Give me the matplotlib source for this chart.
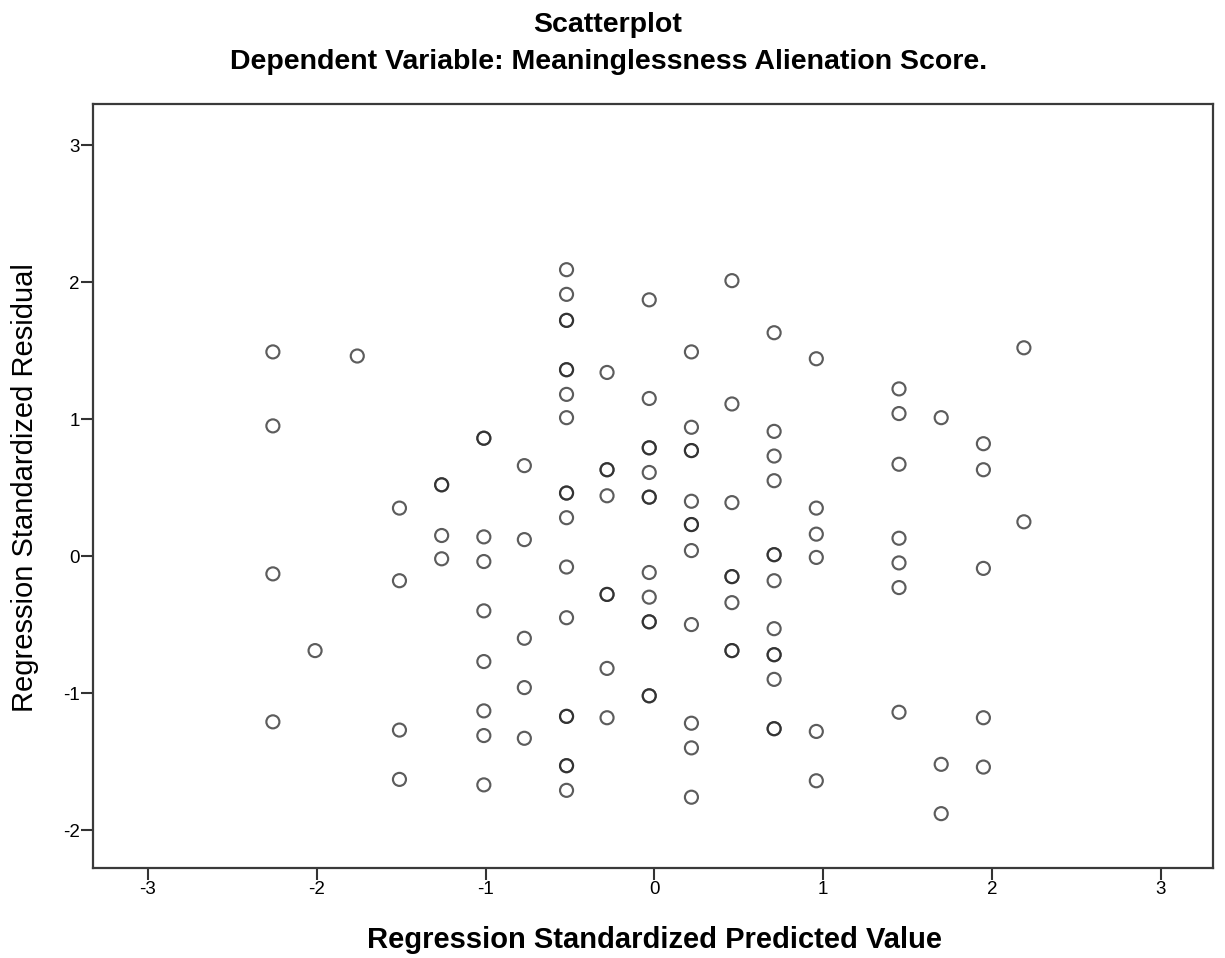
import matplotlib
matplotlib.use("Agg")
import matplotlib.pyplot as plt

plt.rcParams['font.family'] = ['Liberation Sans', 'DejaVu Sans']

# Standardized predicted values (x) and standardized residuals (y), per case
predicted = (
    [-2.26] * 4
    + [-2.01]
    + [-1.76]
    + [-1.51] * 4
    + [-1.26] * 4
    + [-1.01] * 9
    + [-0.77] * 5
    + [-0.52] * 18
    + [-0.28] * 8
    + [-0.03] * 13
    + [0.22] * 12
    + [0.46] * 8
    + [0.71] * 13
    + [0.96] * 6
    + [1.45] * 7
    + [1.70] * 3
    + [1.95] * 5
    + [2.19] * 2
)
residual = (
    [1.49, 0.95, -0.13, -1.21]
    + [-0.69]
    + [1.46]
    + [0.35, -0.18, -1.27, -1.63]
    + [0.52, 0.52, 0.15, -0.02]
    + [0.86, 0.86, 0.14, -0.04, -0.40, -0.77, -1.13, -1.31, -1.67]
    + [0.66, 0.12, -0.60, -0.96, -1.33]
    + [2.09, 1.91, 1.72, 1.72, 1.36, 1.36, 1.18, 1.01, 0.46, 0.46, 0.28,
       -0.08, -0.45, -1.17, -1.17, -1.53, -1.53, -1.71]
    + [1.34, 0.63, 0.63, 0.44, -0.28, -0.28, -0.82, -1.18]
    + [1.87, 1.15, 0.79, 0.79, 0.61, 0.43, 0.43, -0.12, -0.30, -0.48, -0.48,
       -1.02, -1.02]
    + [1.49, 0.94, 0.77, 0.77, 0.40, 0.23, 0.23, 0.04, -0.50, -1.22, -1.40,
       -1.76]
    + [2.01, 1.11, 0.39, -0.15, -0.15, -0.34, -0.69, -0.69]
    + [1.63, 0.91, 0.73, 0.55, 0.01, 0.01, -0.18, -0.53, -0.72, -0.72, -0.90,
       -1.26, -1.26]
    + [1.44, 0.35, 0.16, -0.01, -1.28, -1.64]
    + [1.22, 1.04, 0.67, 0.13, -0.05, -0.23, -1.14]
    + [1.01, -1.52, -1.88]
    + [0.82, 0.63, -0.09, -1.18, -1.54]
    + [1.52, 0.25]
)
x_ticks = [-3, -2, -1, 0, 1, 2, 3]
y_ticks = [-2, -1, 0, 1, 2, 3]

fig = plt.figure(figsize=(12.25, 9.58), dpi=100)
ax = fig.add_axes([0.0759, 0.0939, 0.9141, 0.7975])

ax.scatter(predicted, residual, s=88, facecolors='none',
           edgecolors='#262626', linewidths=1.55, alpha=0.75, zorder=3)

ax.set_xlim(-3.326, 3.309)
ax.set_ylim(-2.277, 3.299)
ax.set_xticks(x_ticks)
ax.set_yticks(y_ticks)
ax.set_xticklabels([str(t) for t in x_ticks])
ax.set_yticklabels([str(t) for t in y_ticks])
ax.tick_params(direction='out', length=8.5, width=1.5, color='#333333',
               labelsize=13.5, pad=1)

for side in ('left', 'bottom', 'top', 'right'):
    ax.spines[side].set_color('#3a3a3a')
    ax.spines[side].set_linewidth(1.6)

fig.text(0.534, 0.0188, 'Regression Standardized Predicted Value',
         ha='center', va='center', fontsize=21, fontweight='bold')
fig.text(0.0204, 0.4906, 'Regression Standardized Residual',
         ha='center', va='center', rotation=90, fontsize=21)

fig.text(0.4963, 0.9739, 'Scatterplot', ha='center', va='center',
         fontsize=20.5, fontweight='bold')
fig.text(0.497, 0.9353, 'Dependent Variable: Meaninglessness Alienation Score.',
         ha='center', va='center', fontsize=20.5, fontweight='bold')

fig.savefig('out.png', dpi=100, facecolor='white')
